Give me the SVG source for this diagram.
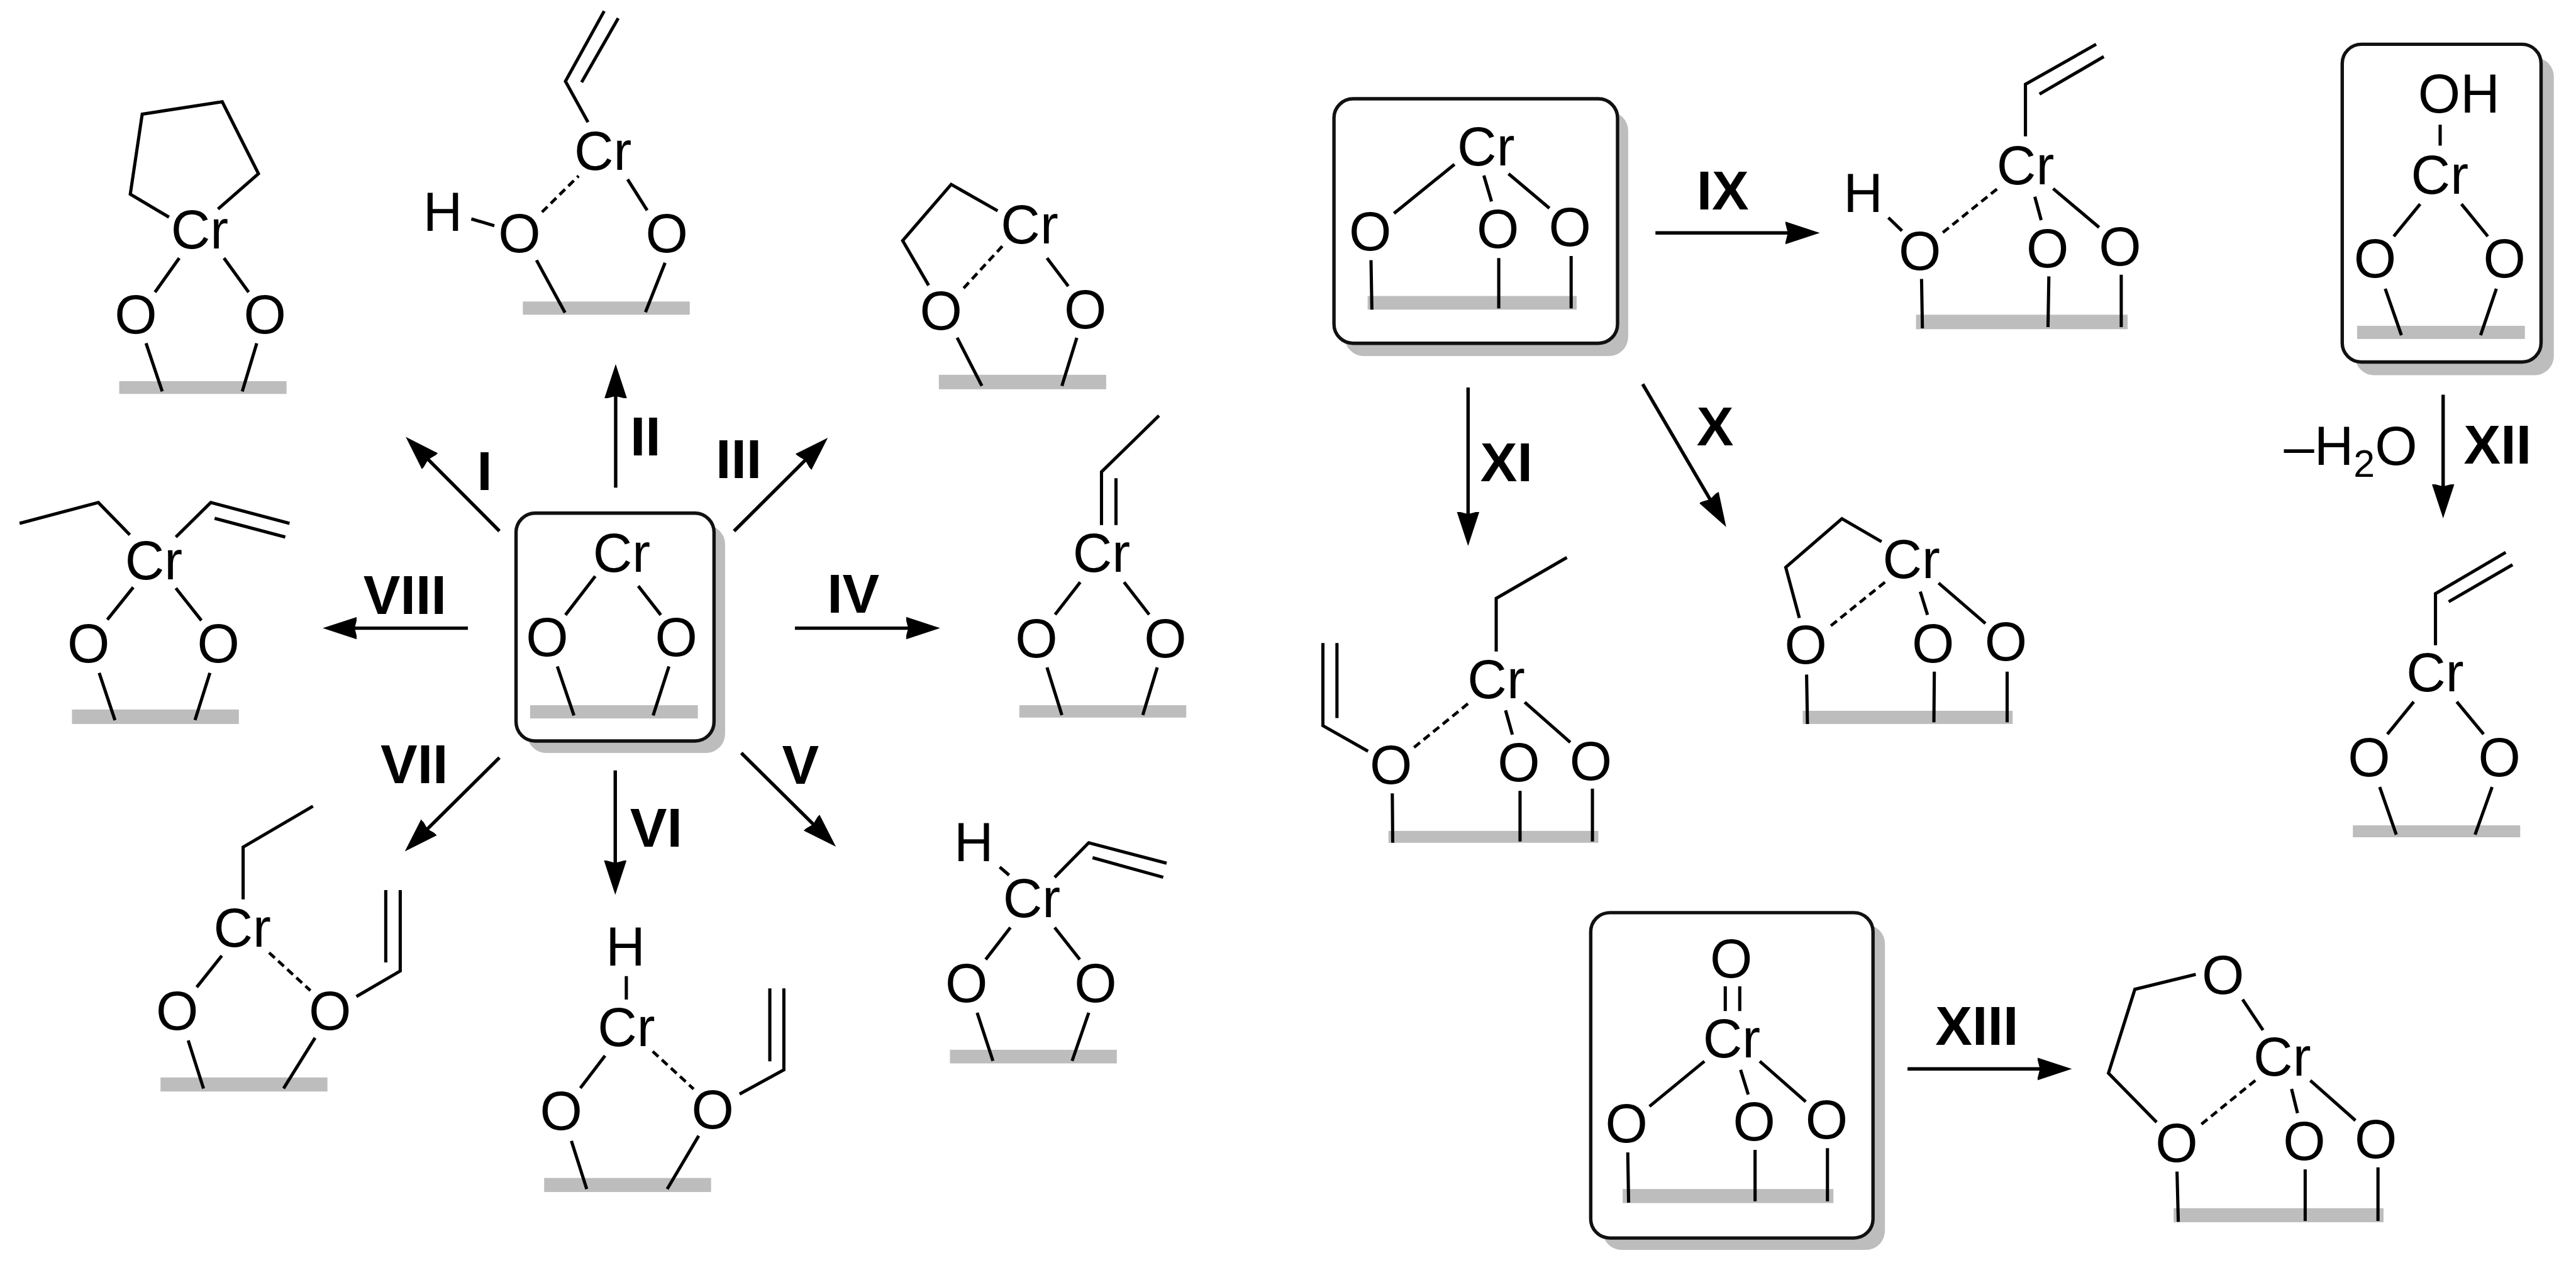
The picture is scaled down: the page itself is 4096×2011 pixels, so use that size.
<svg xmlns="http://www.w3.org/2000/svg" width="4096" height="2011" viewBox="0 0 4096 2011">
<style>
.b{fill:none;stroke:#000;stroke-width:7.5;stroke-linecap:butt;stroke-linejoin:miter}
.d{fill:none;stroke:#000;stroke-width:7;stroke-dasharray:18 11}
.s{fill:#bdbdbd}
.h{fill:#bdbdbd}
.x{fill:#fff;stroke:#111;stroke-width:8}
.a{font-family:"Liberation Sans",Arial,sans-serif;font-size:128px;fill:#000;text-anchor:middle}
.l{font-family:"Liberation Sans",Arial,sans-serif;font-size:130px;font-weight:bold;fill:#000;text-anchor:middle}
.r{fill:none;stroke:#000;stroke-width:8;marker-end:url(#ah)}
</style>
<defs>
<marker id="ah" markerUnits="userSpaceOnUse" markerWidth="90" markerHeight="60" viewBox="0 0 90 60" refX="60" refY="30" orient="auto">
<path d="M80,30 L-2,3 L5,30 L-2,57 Z" fill="#000" style="overflow:visible"/>
</marker>
</defs>
<rect width="4096" height="2011" fill="#fff"/>
<g transform="scale(0.67702)">

<g id="connectors">
<path class="r" d="M1173,1247L967,1040"/>
<path class="r" d="M1446,1145L1446,875"/>
<path class="r" d="M1724,1247L1930,1042"/>
<path class="r" d="M1867,1475L2188,1475"/>
<path class="r" d="M1741,1768L1949,1974"/>
<path class="r" d="M1445,1809L1445,2081"/>
<path class="r" d="M1173,1779L965,1985"/>
<path class="r" d="M1099,1475L778,1475"/>
<path class="r" d="M3888,547L4254,547"/>
<path class="r" d="M3858,902L4044,1220"/>
<path class="r" d="M3448,910L3448,1262"/>
<path class="r" d="M5738,927L5738,1197"/>
<path class="r" d="M4480,2510L4846,2510"/>
</g>

<g id="labels">
<text class="l" x="1138" y="1150">I</text>
<text class="l" x="1516" y="1070">II</text>
<text class="l" x="1735" y="1123">III</text>
<text class="l" x="2004" y="1438">IV</text>
<text class="l" x="1880" y="1840">V</text>
<text class="l" x="1541" y="1988">VI</text>
<text class="l" x="973" y="1839">VII</text>
<text class="l" x="951" y="1441">VIII</text>
<text class="l" x="4046" y="492">IX</text>
<text class="l" x="4028" y="1046">X</text>
<text class="l" x="3538" y="1130">XI</text>
<text class="l" x="5866" y="1088">XII</text>
<text class="l" x="4643" y="2454">XIII</text>
<text class="a" x="5364" y="1092" style="text-anchor:start">–H<tspan font-size="90" dy="28">2</tspan><tspan dy="-28">O</tspan></text>
</g>

<g id="struct-I">
<rect class="s" x="280" y="895" width="393" height="30"/>
<path class="b" d="M397,510L306,456L334,268L522,239L607,408L512,491M421,606L364,686M526,606L584,686M343,806L381,919M603,806L569,919"/>
<text class="a" x="469" y="584">Cr</text><text class="a" x="319" y="783">O</text><text class="a" x="622" y="783">O</text>
</g>

<g id="struct-II">
<rect class="s" x="1228" y="708" width="392" height="31"/>
<path class="b" d="M1381,287L1328,191L1419,26M1366,193L1452,43M1107,514L1161,530M1474,421L1520,494M1260,611L1327,734M1562,617L1516,733"/>
<path class="d" d="M1273,498L1359,413"/>
<text class="a" x="1416" y="399">Cr</text><text class="a" x="1040" y="542">H</text><text class="a" x="1220" y="593">O</text><text class="a" x="1566" y="593">O</text>
</g>

<g id="struct-III">
<rect class="s" x="2205" y="880" width="393" height="34"/>
<path class="b" d="M2343,495L2234,433L2120,565L2181,670M2459,606L2509,672M2248,793L2306,906M2529,793L2494,906"/>
<path class="d" d="M2354,578L2261,679"/>
<text class="a" x="2418" y="572">Cr</text><text class="a" x="2210" y="774">O</text><text class="a" x="2549" y="771">O</text>
</g>

<g id="struct-IV">
<rect class="s" x="2394" y="1656" width="392" height="29"/>
<path class="b" d="M2722,976L2587,1108L2587,1233M2621,1123L2621,1233M2537,1367L2478,1443M2640,1367L2699,1443M2459,1567L2494,1679M2718,1567L2684,1679"/>
<text class="a" x="2587" y="1342">Cr</text><text class="a" x="2434" y="1543">O</text><text class="a" x="2737" y="1543">O</text>
</g>

<g id="struct-V">
<rect class="s" x="2231" y="2465" width="392" height="32"/>
<path class="b" d="M2348,2036L2370,2055M2477,2060L2557,1979L2740,2027M2566,2014L2732,2060M2373,2178L2315,2253M2477,2178L2536,2253M2295,2378L2332,2491M2557,2378L2518,2491"/>
<text class="a" x="2287" y="2022">H</text><text class="a" x="2423" y="2154">Cr</text><text class="a" x="2270" y="2353">O</text><text class="a" x="2573" y="2353">O</text>
</g>

<g id="struct-VI">
<rect class="s" x="1278" y="2766" width="392" height="33"/>
<path class="b" d="M1471,2292L1471,2347M1421,2479L1363,2555M1737,2569L1841,2512L1841,2321M1808,2321L1808,2492M1342,2679L1378,2792M1641,2667L1567,2792"/>
<path class="d" d="M1533,2469L1629,2557"/>
<text class="a" x="1469" y="2268">H</text><text class="a" x="1471" y="2457">Cr</text><text class="a" x="1318" y="2653">O</text><text class="a" x="1674" y="2650">O</text>
</g>

<g id="struct-VII">
<rect class="s" x="377" y="2530" width="392" height="33"/>
<path class="b" d="M735,1893L571,1989L571,2112M521,2244L462,2318M837,2340L940,2280L940,2090M906,2090L906,2260M442,2443L478,2556M740,2437L666,2556"/>
<path class="d" d="M632,2237L729,2326"/>
<text class="a" x="569" y="2223">Cr</text><text class="a" x="416" y="2418">O</text><text class="a" x="775" y="2418">O</text>
</g>

<g id="struct-VIII">
<rect class="s" x="169" y="1666" width="392" height="34"/>
<path class="b" d="M46,1229L231,1180L305,1256M413,1261L495,1180L680,1229M504,1217L670,1261M313,1379L252,1455M413,1381L473,1457M233,1580L270,1691M493,1580L458,1691"/>
<text class="a" x="361" y="1361">Cr</text><text class="a" x="208" y="1555">O</text><text class="a" x="513" y="1555">O</text>
</g>

<g id="center-box">
<rect class="h" x="1238" y="1233" width="465" height="535" rx="45"/>
<rect class="x" x="1212" y="1205" width="465" height="535" rx="45"/>
<rect class="s" x="1245" y="1656" width="394" height="31"/>
<path class="b" d="M1398,1353L1328,1444M1499,1376L1552,1444M1309,1565L1348,1680M1571,1565L1534,1680"/>
<text class="a" x="1460" y="1342">Cr</text><text class="a" x="1285" y="1541">O</text><text class="a" x="1588" y="1541">O</text>
</g>

<g id="box-IX">
<rect class="h" x="3158" y="262" width="666" height="574" rx="45"/>
<rect class="x" x="3133" y="232" width="666" height="574" rx="45"/>
<rect class="s" x="3212" y="695" width="491" height="32"/>
<path class="b" d="M3416,386L3274,501M3485,412L3503,473M3543,408L3639,489M3220,611L3222,727M3520,606L3520,724M3690,601L3690,724"/>
<text class="a" x="3490" y="389">Cr</text><text class="a" x="3218" y="588">O</text><text class="a" x="3518" y="582">O</text><text class="a" x="3687" y="578">O</text>
</g>

<g id="struct-IX">
<rect class="s" x="4500" y="739" width="497" height="34"/>
<path class="b" d="M4757,320L4757,198L4923,104M4790,221L4941,133M4435,511L4467,542M4779,462L4794,517M4822,443L4930,534M4513,655L4515,771M4812,649L4810,768M4982,645L4982,768"/>
<path class="d" d="M4563,546L4695,440"/>
<text class="a" x="4757" y="433">Cr</text><text class="a" x="4376" y="498">H</text><text class="a" x="4509" y="634">O</text><text class="a" x="4809" y="628">O</text><text class="a" x="4979" y="624">O</text>
</g>

<g id="struct-XI">
<rect class="s" x="3261" y="1951" width="493" height="28"/>
<path class="b" d="M3680,1309L3514,1405L3514,1530M3213,1764L3107,1704L3107,1510M3140,1510L3140,1686M3536,1668L3552,1725M3581,1649L3688,1743M3270,1863L3271,1979M3570,1857L3570,1976M3740,1852L3740,1976"/>
<path class="d" d="M3321,1755L3453,1648"/>
<text class="a" x="3514" y="1640">Cr</text><text class="a" x="3267" y="1840">O</text><text class="a" x="3567" y="1834">O</text><text class="a" x="3736" y="1831">O</text>
</g>

<g id="struct-X">
<rect class="s" x="4234" y="1669" width="493" height="31"/>
<path class="b" d="M4419,1272L4326,1218L4194,1332L4226,1451M4510,1389L4527,1444M4553,1369L4663,1464M4243,1584L4245,1700M4543,1577L4542,1696M4714,1577L4714,1696"/>
<path class="d" d="M4427,1367L4293,1475"/>
<text class="a" x="4489" y="1357">Cr</text><text class="a" x="4241" y="1559">O</text><text class="a" x="4540" y="1555">O</text><text class="a" x="4711" y="1551">O</text>
</g>

<g id="box-XII">
<rect class="h" x="5531" y="135" width="467" height="746" rx="45"/>
<rect class="x" x="5501" y="104" width="467" height="746" rx="45"/>
<rect class="s" x="5536" y="765" width="394" height="31"/>
<path class="b" d="M5731,293L5731,342M5684,479L5622,555M5781,479L5843,555M5602,678L5640,787M5863,678L5826,787"/>
<text class="a" x="5775" y="265">OH</text><text class="a" x="5730" y="455">Cr</text><text class="a" x="5578" y="651">O</text><text class="a" x="5882" y="651">O</text>
</g>

<g id="struct-XII">
<rect class="s" x="5526" y="1938" width="393" height="28"/>
<path class="b" d="M5720,1515L5720,1394L5885,1297M5751,1413L5901,1326M5669,1648L5607,1724M5770,1648L5833,1724M5589,1848L5628,1960M5853,1848L5813,1960"/>
<text class="a" x="5719" y="1624">Cr</text><text class="a" x="5564" y="1822">O</text><text class="a" x="5870" y="1822">O</text>
</g>

<g id="box-XIII">
<rect class="h" x="3764" y="2171" width="663" height="764" rx="45"/>
<rect class="x" x="3736" y="2143" width="663" height="764" rx="45"/>
<rect class="s" x="3811" y="2792" width="495" height="33"/>
<path class="b" d="M4052,2316L4052,2374M4086,2316L4086,2374M4003,2492L3874,2598M4088,2512L4106,2570M4133,2492L4241,2587M3823,2706L3825,2824M4122,2700L4122,2821M4292,2696L4292,2821"/>
<text class="a" x="4066" y="2295">O</text><text class="a" x="4067" y="2483">Cr</text><text class="a" x="3820" y="2683">O</text><text class="a" x="4120" y="2678">O</text><text class="a" x="4290" y="2673">O</text>
</g>

<g id="struct-XIII">
<rect class="s" x="5105" y="2837" width="493" height="33"/>
<path class="b" d="M5157,2288L5014,2323L4952,2520L5065,2635M5267,2347L5315,2419M5382,2557L5396,2614M5426,2537L5532,2631M5113,2751L5116,2869M5414,2746L5414,2867M5585,2741L5585,2867"/>
<path class="d" d="M5297,2537L5165,2644"/>
<text class="a" x="5221" y="2334">O</text><text class="a" x="5360" y="2526">Cr</text><text class="a" x="5112" y="2728">O</text><text class="a" x="5412" y="2723">O</text><text class="a" x="5580" y="2720">O</text>
</g>

</g>
</svg>
